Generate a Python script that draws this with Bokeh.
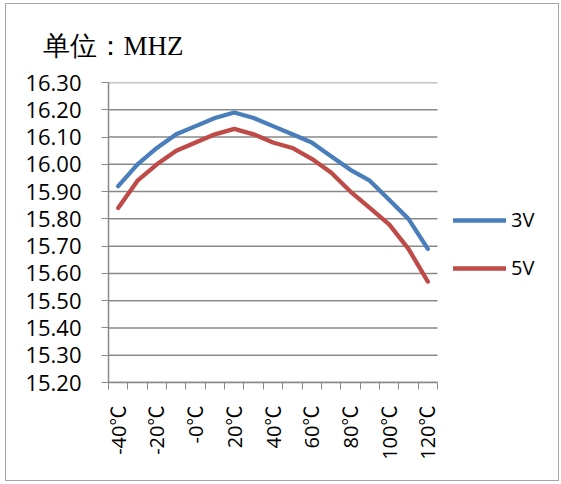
import math
from bokeh.plotting import figure
from bokeh.models import Range1d, FixedTicker, Legend, LegendItem, NumeralTickFormatter
from bokeh.embed import file_html
from bokeh.resources import INLINE

# ---- data ----
CATEGORIES = ["-40℃", "-30℃", "-20℃", "-10℃", "-0℃", "10℃", "20℃", "30℃", "40℃",
              "50℃", "60℃", "70℃", "80℃", "90℃", "100℃", "110℃", "120℃"]
SERIES_NAMES = ["3V", "5V"]
V3 = [15.92, 16.00, 16.06, 16.11, 16.14, 16.17, 16.19, 16.17, 16.14,
      16.11, 16.08, 16.03, 15.98, 15.94, 15.87, 15.80, 15.69]
V5 = [15.84, 15.94, 16.00, 16.05, 16.08, 16.11, 16.13, 16.11, 16.08,
      16.06, 16.02, 15.97, 15.90, 15.84, 15.78, 15.69, 15.57]
Y_TICKS = [15.2, 15.3, 15.4, 15.5, 15.6, 15.7, 15.8, 15.9, 16.0, 16.1, 16.2, 16.3]
TITLE = "单位：MHZ"

FONT = "Open Sans"
XFONT = "'Open Sans', 'Noto Sans CJK SC'"
GRAY = "#898989"
BLUE = "#4a7ebb"
RED = "#be4b48"

# ---- layout constants ----
W, H = 554, 478
BORDER_L, BORDER_R, BORDER_T = 102, 10, 78
PLOT_W, PLOT_H = 329, 300        # pixel size of the category area
BORDER_B = H - BORDER_T - PLOT_H
frame_w = W - BORDER_L - BORDER_R

n = len(CATEGORIES)
xs = list(range(n))
x_lo, x_hi = -0.5, n - 0.5
x_end = x_lo + n * frame_w / PLOT_W   # extra room on the right for the legend

p = figure(width=W, height=H, output_backend="svg", toolbar_location=None,
           x_range=Range1d(x_lo, x_end),
           y_range=Range1d(Y_TICKS[0], Y_TICKS[-1]),
           min_border_left=BORDER_L, min_border_right=BORDER_R,
           min_border_top=BORDER_T, min_border_bottom=BORDER_B)
p.styles = {"border": "1px solid #a6a6a6", "margin-left": "5px", "margin-top": "3px"}
p.outline_line_color = None
p.background_fill_color = "white"
p.border_fill_color = "white"

# horizontal grid lines limited to the category area
p.segment(x0=[x_lo] * len(Y_TICKS), y0=Y_TICKS, x1=[x_hi] * len(Y_TICKS), y1=Y_TICKS,
          line_color=GRAY, line_width=1.5)

r1 = p.line(xs, V3, line_color=BLUE, line_width=4.3, line_cap="round", line_join="round")
r2 = p.line(xs, V5, line_color=RED, line_width=4.3, line_cap="round", line_join="round")

# title
p.title.text = TITLE
p.title.align = "left"
p.title.offset = -66
p.title.standoff = 43
p.title.text_font = "Liberation Serif"
p.title.text_font_size = "27px"
p.title.text_font_style = "normal"
p.title.text_color = "black"

# x axis: labels every other category, tick marks at category boundaries
label_idx = xs[::2]
boundaries = [i - 0.5 for i in range(n + 1)]
p.xaxis.bounds = (x_lo, x_hi)
p.xaxis.ticker = FixedTicker(ticks=label_idx, minor_ticks=boundaries)
p.xaxis.major_label_overrides = {i: CATEGORIES[i] for i in label_idx}
p.xaxis.major_label_orientation = math.pi / 2
p.xaxis.major_tick_out = 0
p.xaxis.major_tick_in = 0
p.xaxis.minor_tick_out = 7
p.xaxis.minor_tick_in = 0
p.xaxis.minor_tick_line_color = GRAY
p.xaxis.axis_line_color = GRAY
p.xaxis.axis_line_width = 1.5
p.xaxis.major_label_standoff = 16
p.xaxis.major_label_text_font = XFONT
p.xaxis.major_label_text_font_size = "20px"
p.xaxis.major_label_text_color = "black"

# y axis
p.yaxis.ticker = FixedTicker(ticks=Y_TICKS)
p.yaxis.formatter = NumeralTickFormatter(format="0.00")
p.yaxis.major_tick_out = 7
p.yaxis.major_tick_in = 0
p.yaxis.minor_tick_line_color = None
p.yaxis.major_tick_line_color = GRAY
p.yaxis.axis_line_color = GRAY
p.yaxis.axis_line_width = 1.5
p.yaxis.major_label_standoff = 20
p.yaxis.major_label_text_font = FONT
p.yaxis.major_label_text_font_size = "22px"
p.yaxis.major_label_text_color = "black"

p.xgrid.visible = False
p.ygrid.visible = False

legend = Legend(items=[LegendItem(label=SERIES_NAMES[0], renderers=[r1]),
                       LegendItem(label=SERIES_NAMES[1], renderers=[r2])],
                location=(345, 101), orientation="vertical",
                glyph_width=53, glyph_height=20, label_height=20, spacing=21,
                label_standoff=5, padding=0, margin=0,
                border_line_color=None, background_fill_alpha=0,
                label_text_font=FONT, label_text_font_size="20px",
                label_text_color="black")
p.add_layout(legend, "center")

open("out.html", "w").write(file_html(p, INLINE))
